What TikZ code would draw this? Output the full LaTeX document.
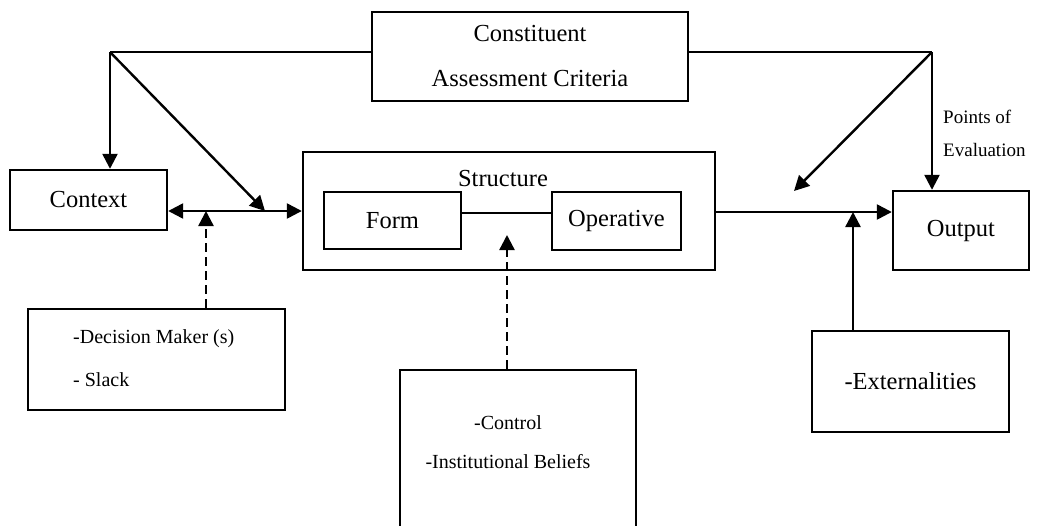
\documentclass[tikz,border=0pt]{standalone}
\usepackage{fontspec}
\setmainfont{Liberation Serif}
\usetikzlibrary{arrows.meta}
\begin{document}
\begin{tikzpicture}[x=1pt,y=-1pt,
  box/.style n args={2}{draw,line width=2.4pt,inner sep=0pt,minimum width=#1,minimum height=#2},
  big/.style={font=\fontsize{24.5}{30}\selectfont},
  conn/.style={line width=2.4pt},
  arr/.style={conn,-{Triangle[length=15pt,width=15pt]}},
  darr/.style={arr,dash pattern=on 9pt off 5pt}]
\clip (0,0) rectangle (1041,525);

% boxes
\node[box={316}{89},font=\fontsize{24.5}{45}\selectfont,align=center] (crit) at (530,56.5)
  {Constituent\\Assessment Criteria};
\node[box={157}{60},big] (context) at (88.5,200) {Context};
\node[box={412}{118}] (struct) at (509,211) {};
\node[big] (structlbl) at (503,179) {Structure};
\node[box={137}{57},big] (form) at (392.5,220.5) {Form};
\node[box={129}{58},big] (oper) at (616.5,221) {Operative};
\node[box={136}{79},big] (output) at (961,230.5) {Output};
\node[box={257}{101}] (decision) at (156.5,359.5) {};
\node[font=\fontsize{20}{43}\selectfont,align=left,anchor=west,inner sep=0pt] (dectext) at (73,358.5)
  {-Decision Maker (s)\\- Slack};
\node[box={236}{170}] (control) at (518,455) {};
\node[font=\fontsize{20}{39}\selectfont,align=center,inner sep=0pt] (ctltext) at (508,442.5)
  {-Control\\-Institutional Beliefs};
\node[box={197}{101},big] (ext) at (910.5,381.5) {-Externalities};
\node[font=\fontsize{19}{33}\selectfont,align=left,anchor=west,inner sep=0pt] (poe) at (943,133.5)
  {Points of\\Evaluation};

% junction points and arrow ends
\coordinate (jL) at (110,52);
\coordinate (jR) at (932,52);
\coordinate (dL) at (265,211);
\coordinate (dm) at (206,211);
\coordinate (fo) at (500,213);
\coordinate (cT) at (507,235);
\coordinate (dR) at (794,191);
\coordinate (eT) at (853,212);

% connectors
\draw[conn] (crit.west |- jL) -- (jL);
\draw[arr] (jL) -- (jL |- context.north);
\draw[arr] (jL) -- (dL);
\draw[conn,{Triangle[length=15pt,width=15pt]}-{Triangle[length=15pt,width=15pt]}]
  (context.east |- dL) -- (struct.west |- dL);
\draw[darr] (dm |- decision.north) -- (dm);
\draw[conn] (form.east |- fo) -- (oper.west |- fo);
\draw[darr] (cT |- control.north) -- (cT);
\draw[arr] (struct.east |- eT) -- (output.west |- eT);
\draw[conn] (crit.east |- jR) -- (jR);
\draw[arr] (jR) -- (jR |- output.north);
\draw[arr] (jR) -- (dR);
\draw[arr] (eT |- ext.north) -- (eT);
\end{tikzpicture}
\end{document}
